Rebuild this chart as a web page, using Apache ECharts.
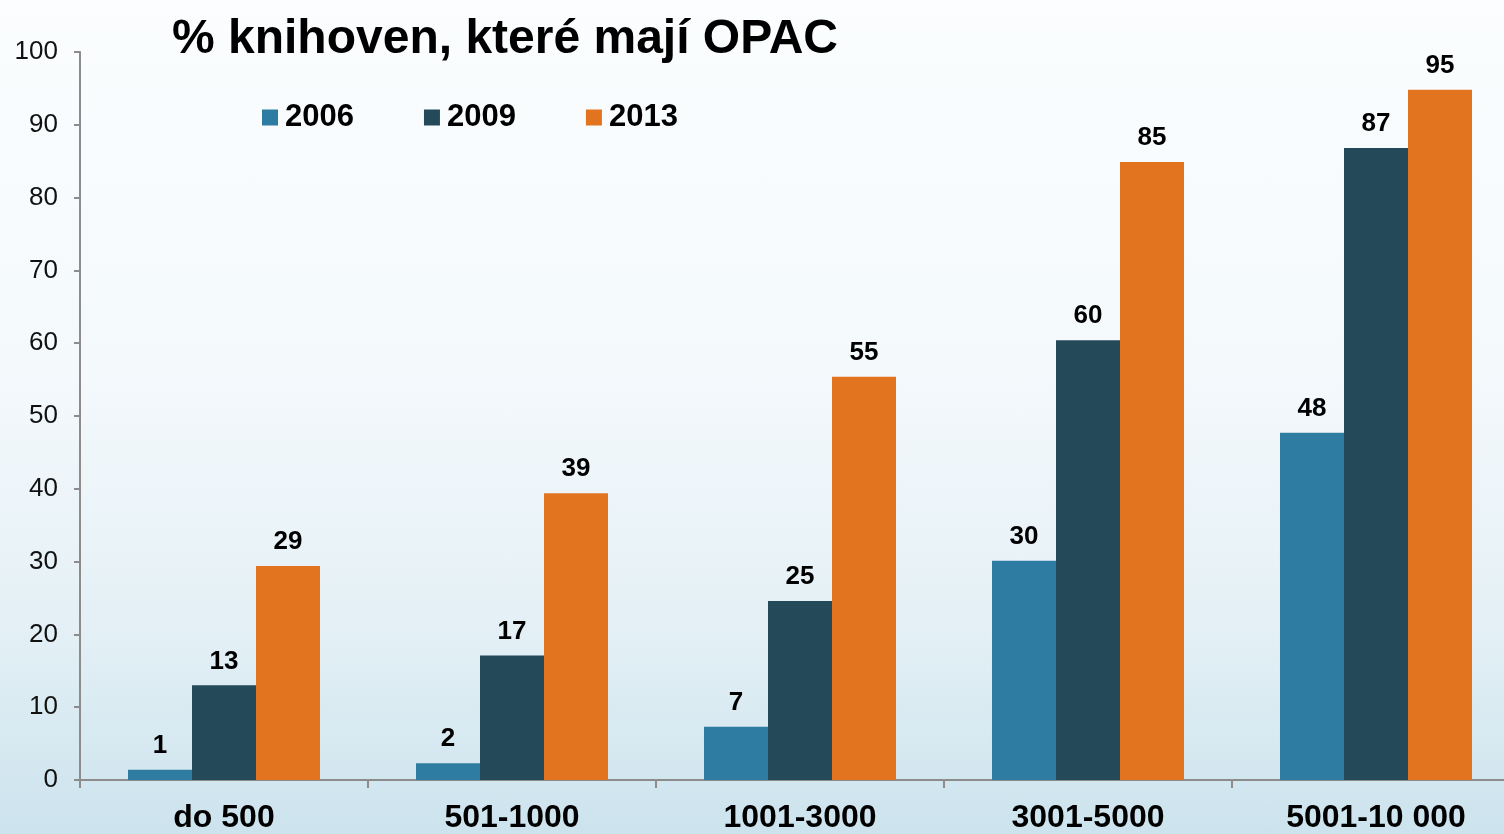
<!DOCTYPE html>
<html>
<head>
<meta charset="utf-8">
<script src="https://cdn.jsdelivr.net/npm/echarts@6/dist/echarts.min.js"></script>
<style>
  html, body { margin: 0; padding: 0; }
  body {
    width: 1504px; height: 834px; overflow: hidden;
    background: linear-gradient(to bottom, #fbfdfe 0%, #f4f9fc 45%, #e4f0f6 75%, #cce3ed 100%);
  }
  /* the plot runs a bit past the right edge of the picture */
  #chart { width: 1520px; height: 834px; }
</style>
</head>
<body>
<div id="chart"></div>
<script>
// velikost knihovny (počet obyvatel)
const categories = ['do 500', '501-1000', '1001-3000', '3001-5000', '5001-10 000']
const years = ['2006', '2009', '2013']
// % knihoven s OPAC (výšky sloupců)
const values2006 = [1.4, 2.3, 7.3, 30.1, 47.7]
const values2009 = [13.0, 17.1, 24.6, 60.4, 86.8]
const values2013 = [29.4, 39.4, 55.4, 84.9, 94.8]
const colors = ['#2e7ca2', '#244a5a', '#e2741f']

const font = '"Liberation Sans", Arial, sans-serif'
const myChart = echarts.init(document.getElementById('chart'))

function barSeries(name, data) {
  return {
    name: name,
    type: 'bar',
    barGap: 0,
    barCategoryGap: '33.33%',
    data: data,
    label: {
      show: true,
      position: 'top',
      distance: 11,
      color: '#000',
      fontFamily: font,
      fontWeight: 'bold',
      fontSize: 26,
      formatter: p => Math.round(p.value),
    },
  }
}

myChart.setOption({
  animation: false,
  backgroundColor: 'transparent',
  color: colors,
  textStyle: { fontFamily: font },
  title: {
    text: '% knihoven, které mají OPAC',
    left: 167,
    top: 11,
    textStyle: {
      color: '#000',
      fontFamily: font,
      fontWeight: 'bold',
      fontSize: 48,
    },
  },
  legend: {
    left: 257,
    top: 97,
    itemWidth: 16,
    itemHeight: 16,
    itemGap: 70,
    icon: 'rect',
    textStyle: {
      color: '#000',
      fontFamily: font,
      fontWeight: 'bold',
      fontSize: 31,
      padding: [0, 0, 0, 2],
    },
    data: years,
  },
  grid: {
    left: 80,
    top: 52,
    bottom: 51,
    right: 0,
    containLabel: false,
  },
  xAxis: {
    type: 'category',
    data: categories,
    axisLine: { show: true, lineStyle: { color: '#8c8c8c', width: 2 } },
    axisTick: { show: true, length: 8, lineStyle: { color: '#8c8c8c', width: 2 } },
    axisLabel: {
      color: '#000',
      fontFamily: font,
      fontWeight: 'bold',
      fontSize: 32,
      margin: 22,
    },
  },
  yAxis: {
    type: 'value',
    min: 0,
    max: 100,
    interval: 10,
    splitLine: { show: false },
    axisLine: { show: true, lineStyle: { color: '#8c8c8c', width: 2 } },
    axisTick: { show: true, length: 6, lineStyle: { color: '#8c8c8c', width: 2 } },
    axisLabel: {
      color: '#111',
      fontFamily: font,
      fontSize: 26,
      margin: 22,
    },
  },
  series: [
    barSeries(years[0], values2006),
    barSeries(years[1], values2009),
    barSeries(years[2], values2013),
  ],
})
</script>
</body>
</html>
